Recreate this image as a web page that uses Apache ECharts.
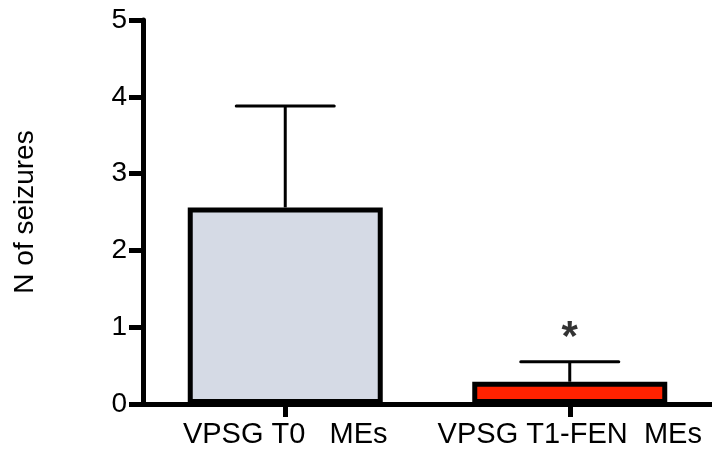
<!DOCTYPE html>
<html>
<head>
<meta charset="utf-8">
<script src="https://cdn.jsdelivr.net/npm/echarts@6/dist/echarts.min.js"></script>
<style>html,body{margin:0;padding:0;background:#fff}#c{width:712px;height:452px}</style>
</head>
<body>
<div id="c"></div>
<script>
var categories = ['VPSG T0   MEs', 'VPSG T1-FEN  MEs'];
var means = [2.56, 0.29];
var errors = [1.32, 0.26];
var barColors = ['#d5dae5', '#ff2200'];
var sigMarks = ['', '*'];
var yTicks = [0, 1, 2, 3, 4, 5];

var chart = echarts.init(document.getElementById('c'));
var font = '"Liberation Sans", Arial, sans-serif';

chart.setOption({
  animation: false,
  grid: { left: 143, right: 0, top: 20, bottom: 48 },
  xAxis: {
    type: 'category',
    data: categories,
    axisLine: { lineStyle: { color: '#000', width: 5 } },
    axisTick: { show: true, alignWithLabel: true, length: 13, lineStyle: { color: '#000', width: 5 } },
    axisLabel: { color: '#000', fontSize: 29, fontFamily: font, margin: 16, interval: 0, hideOverlap: false }
  },
  yAxis: {
    type: 'value',
    min: yTicks[0], max: yTicks[yTicks.length - 1], interval: 1,
    name: 'N of seizures',
    nameLocation: 'middle',
    nameGap: 104,
    nameTextStyle: { color: '#000', fontSize: 28, fontFamily: font },
    splitLine: { show: false },
    axisLine: { show: true, lineStyle: { color: '#000', width: 5 } },
    axisTick: { show: true, length: 14, lineStyle: { color: '#000', width: 5 } },
    axisLabel: { color: '#000', fontSize: 28, fontFamily: font, margin: 16 }
  },
  series: [
    {
      type: 'custom',
      z: 1,
      data: means.map(function (m, i) { return [i, m, m + errors[i]]; }),
      renderItem: function (params, api) {
        var x = api.coord([api.value(0), 0])[0];
        var yb = api.coord([0, api.value(1)])[1];
        var yt = api.coord([0, api.value(2)])[1];
        var half = 49;
        return {
          type: 'group',
          children: [
            { type: 'line', shape: { x1: x, y1: yb, x2: x, y2: yt }, style: { stroke: '#000', lineWidth: 3 } },
            { type: 'line', shape: { x1: x - half, y1: yt, x2: x + half, y2: yt }, style: { stroke: '#000', lineWidth: 3, lineCap: 'round' } }
          ]
        };
      }
    },
    {
      type: 'bar',
      z: 2,
      barWidth: 195,
      data: means.map(function (m, i) {
        return { value: m, itemStyle: { color: barColors[i], borderColor: '#000', borderWidth: 5 } };
      })
    },
    {
      type: 'scatter',
      z: 3,
      symbolSize: 0,
      data: means.map(function (m, i) { return { value: [i, m + errors[i]], label: { show: sigMarks[i] !== '', formatter: sigMarks[i] } }; }),
      label: { position: 'top', distance: 2, color: '#000', fontSize: 42, fontWeight: 'bold', fontFamily: font }
    }
  ]
});
</script>
</body>
</html>
